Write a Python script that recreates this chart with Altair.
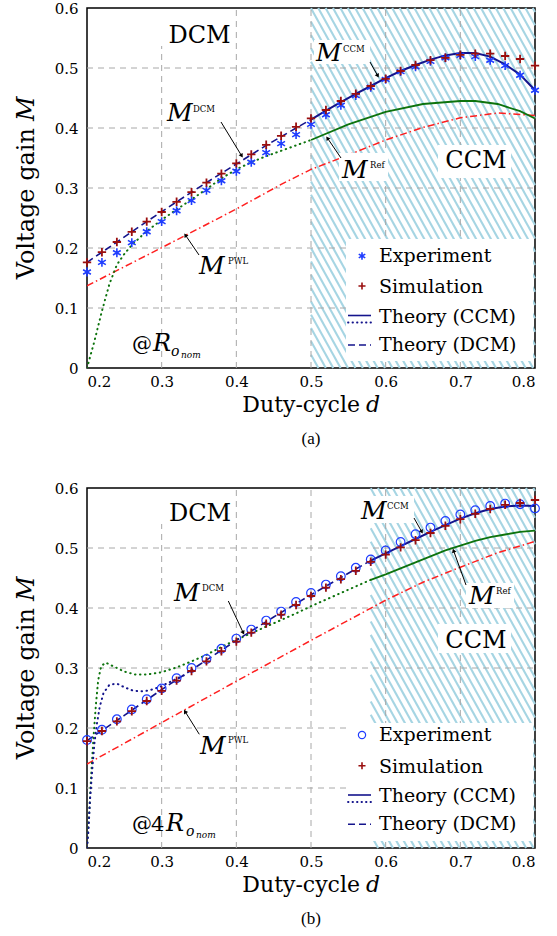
import math
import altair as alt
import pandas as pd

FONT = "DejaVu Serif"
W, H = 448, 360
X_DOM = [0.2, 0.8]
Y_DOM = [0.0, 0.6]

# ---------------- data ----------------
D = [0.20, 0.22, 0.24, 0.26, 0.28, 0.30, 0.32, 0.34, 0.36, 0.38, 0.40,
     0.42, 0.44, 0.46, 0.48, 0.50, 0.52, 0.54, 0.56, 0.58, 0.60, 0.62,
     0.64, 0.66, 0.68, 0.70, 0.72, 0.74, 0.76, 0.78, 0.80]

# panel (a)  @ Ro_nom
EXP_A = [0.160, 0.176, 0.192, 0.209, 0.227, 0.244, 0.262, 0.279, 0.296, 0.312, 0.328,
         0.343, 0.359, 0.374, 0.389, 0.406, 0.422, 0.438, 0.454, 0.468, 0.481, 0.494,
         0.502, 0.511, 0.517, 0.521, 0.519, 0.513, 0.504, 0.488, 0.463]
SIM_A = [0.176, 0.193, 0.210, 0.227, 0.244, 0.260, 0.277, 0.293, 0.309, 0.324, 0.341,
         0.356, 0.372, 0.387, 0.402, 0.416, 0.430, 0.445, 0.457, 0.470, 0.482, 0.495,
         0.505, 0.513, 0.517, 0.522, 0.524, 0.524, 0.520, 0.515, 0.504]
DCM_A_D = [0.20, 0.24, 0.28, 0.32, 0.36, 0.40, 0.44, 0.48, 0.50]
DCM_A_V = [0.176, 0.210, 0.244, 0.277, 0.309, 0.340, 0.371, 0.400, 0.414]
CCM_A_D = [0.50, 0.52, 0.54, 0.56, 0.58, 0.60, 0.62, 0.64, 0.66, 0.68, 0.70, 0.72, 0.74, 0.76, 0.78, 0.80]
CCM_A_V = [0.414, 0.429, 0.443, 0.457, 0.470, 0.483, 0.495, 0.505, 0.514, 0.521, 0.525, 0.525, 0.519, 0.506, 0.489, 0.463]
REF_A_D = [0.50, 0.55, 0.60, 0.65, 0.70, 0.72, 0.75, 0.78, 0.80]
REF_A_V = [0.380, 0.406, 0.427, 0.440, 0.445, 0.445, 0.440, 0.428, 0.416]
REFDOT_A_D = [0.20, 0.21, 0.22, 0.23, 0.24, 0.25, 0.26, 0.28, 0.30, 0.32, 0.34, 0.36, 0.38, 0.40, 0.42, 0.44, 0.46, 0.48, 0.50]
REFDOT_A_V = [0.0, 0.045, 0.095, 0.140, 0.172, 0.190, 0.205, 0.228, 0.247, 0.264, 0.281, 0.298, 0.316, 0.331, 0.343, 0.353, 0.362, 0.371, 0.380]
PWL_A_D = [0.20, 0.30, 0.40, 0.46, 0.50, 0.55, 0.60, 0.65, 0.70, 0.75, 0.80]
PWL_A_V = [0.137, 0.2005, 0.265, 0.306, 0.331, 0.355, 0.380, 0.401, 0.417, 0.425, 0.421]

# panel (b)  @ 4 Ro_nom
EXP_B = [0.180, 0.197, 0.2145, 0.231, 0.248, 0.266, 0.283, 0.300, 0.315, 0.332, 0.349,
         0.364, 0.379, 0.394, 0.410, 0.425, 0.439, 0.453, 0.467, 0.481, 0.496, 0.510,
         0.523, 0.534, 0.545, 0.556, 0.563, 0.570, 0.574, 0.573, 0.566]
SIM_B = [0.178, 0.195, 0.211, 0.228, 0.245, 0.262, 0.279, 0.295, 0.311, 0.328, 0.344,
         0.359, 0.374, 0.389, 0.405, 0.420, 0.434, 0.448, 0.462, 0.477, 0.489, 0.501,
         0.513, 0.525, 0.537, 0.548, 0.557, 0.565, 0.572, 0.575, 0.580]
DCM_B_D = [0.20, 0.25, 0.30, 0.35, 0.40, 0.45, 0.50, 0.55, 0.58]
DCM_B_V = [0.179, 0.221, 0.264, 0.305, 0.346, 0.385, 0.422, 0.458, 0.479]
CCM_B_D = [0.58, 0.60, 0.62, 0.64, 0.66, 0.68, 0.70, 0.72, 0.74, 0.76, 0.78, 0.80]
CCM_B_V = [0.479, 0.491, 0.503, 0.515, 0.527, 0.538, 0.549, 0.558, 0.565, 0.569, 0.571, 0.570]
CCMDOT_B_D = [0.200, 0.202, 0.204, 0.207, 0.210, 0.213, 0.217, 0.222, 0.230, 0.240, 0.250, 0.260, 0.270, 0.280, 0.290, 0.300, 0.310, 0.320, 0.330]
CCMDOT_B_V = [0.0, 0.030, 0.080, 0.130, 0.175, 0.205, 0.235, 0.258, 0.272, 0.274, 0.268, 0.263, 0.261, 0.262, 0.265, 0.270, 0.276, 0.282, 0.288]
REF_B_D = [0.58, 0.60, 0.62, 0.64, 0.66, 0.68, 0.70, 0.72, 0.74, 0.76, 0.78, 0.80]
REF_B_V = [0.447, 0.456, 0.466, 0.476, 0.486, 0.496, 0.504, 0.512, 0.518, 0.5225, 0.527, 0.529]
REFDOT_B_D = [0.200, 0.203, 0.206, 0.209, 0.212, 0.215, 0.219, 0.225, 0.235, 0.250, 0.265, 0.280, 0.300, 0.320,
              0.340, 0.360, 0.380, 0.400, 0.420, 0.440, 0.460, 0.480, 0.500, 0.520, 0.540, 0.560, 0.580]
REFDOT_B_V = [0.0, 0.060, 0.130, 0.190, 0.240, 0.280, 0.303, 0.309, 0.303, 0.294, 0.289, 0.289, 0.293, 0.301,
              0.311, 0.322, 0.335, 0.347, 0.358, 0.369, 0.380, 0.391, 0.403, 0.414, 0.425, 0.436, 0.447]
PWL_B_D = [0.20, 0.30, 0.40, 0.50, 0.60, 0.65, 0.70, 0.75, 0.80]
PWL_B_V = [0.140, 0.209, 0.278, 0.346, 0.413, 0.443, 0.468, 0.492, 0.511]

X_TICKS = [0.2, 0.3, 0.4, 0.5, 0.6, 0.7, 0.8]
Y_TICKS = [0.0, 0.1, 0.2, 0.3, 0.4, 0.5, 0.6]
X_GRID = [0.3, 0.4, 0.5, 0.6, 0.7]
Y_GRID = [0.1, 0.2, 0.3, 0.4, 0.5]
LEGEND_LABELS = ["Experiment", "Simulation", "Theory (CCM)", "Theory (DCM)"]

# ---------------- styles ----------------
C_EXP = "#1f3dff"
C_SIM = "#9a0f0f"
C_NAVY = "#14148c"
C_GREEN = "#0d730d"
C_RED = "#ff1f1f"
C_HATCH = "#a6d5e3"
C_GRID = "#a8a8a8"
ASTER = "M0,-1L0,1M-0.87,-0.5L0.87,0.5M-0.87,0.5L0.87,-0.5"
PLUS = "M-1,0L1,0M0,-1L0,1"

XAXIS = alt.Axis(values=X_TICKS, labelExpr="format(datum.value, '.1f')", grid=False, ticks=False,
                 domain=False, labelPadding=6, title=None)
YAXIS = alt.Axis(values=Y_TICKS, labelExpr="datum.value == 0 ? '0' : format(datum.value, '.1f')",
                 grid=False, ticks=False, domain=False, labelPadding=9, title=None)


def X(f="d"):
    return alt.X(f"{f}:Q", scale=alt.Scale(domain=X_DOM, nice=False, zero=False), axis=XAXIS, title=None)


def Y(f="v"):
    return alt.Y(f"{f}:Q", scale=alt.Scale(domain=Y_DOM, nice=False, zero=False), axis=YAXIS, title=None)


PX = alt.X("px:Q", scale=None, axis=None)
PY = alt.Y("py:Q", scale=None, axis=None)


def hatch_layer(x0):
    a = (x0 - X_DOM[0]) / 0.6 * W
    b = W
    k, period = 1.8, 7.4
    rows = []
    c = a - H / k
    while c < b:
        py0 = max(0.0, (a - c) * k)
        py1 = min(H, (b - c) * k)
        if py1 > py0:
            px0, px1 = c + py0 / k, c + py1 / k
            rows.append(dict(d=0.2 + px0 / W * 0.6, v=0.6 - py0 / H * 0.6,
                             d2=0.2 + px1 / W * 0.6, v2=0.6 - py1 / H * 0.6))
        c += period
    return alt.Chart(pd.DataFrame(rows)).mark_rule(color=C_HATCH, strokeWidth=2.1).encode(
        x=X(), y=Y(), x2="d2:Q", y2="v2:Q")


def grid_layers():
    vx = pd.DataFrame({"d": X_GRID, "v": 0.0, "v2": 0.6})
    hy = pd.DataFrame({"v": Y_GRID, "d": 0.2, "d2": 0.8})
    s = dict(color=C_GRID, strokeWidth=1, strokeDash=[6, 5])
    return [alt.Chart(vx).mark_rule(**s).encode(x=X(), y=Y(), y2="v2:Q"),
            alt.Chart(hy).mark_rule(**s).encode(y=Y(), x=X(), x2="d2:Q")]


def line(dv, vv, color, width, dash=None, cap="butt"):
    kw = dict(color=color, strokeWidth=width, strokeCap=cap, clip=True)
    if dash:
        kw["strokeDash"] = dash
    return alt.Chart(pd.DataFrame({"d": dv, "v": vv})).mark_line(**kw).encode(x=X(), y=Y())


def points(vals, shape, color, size, width=1.3):
    return alt.Chart(pd.DataFrame({"d": D, "v": vals})).mark_point(
        shape=shape, filled=False, stroke=color, strokeWidth=width, size=size, opacity=1).encode(x=X(), y=Y())


def texts(rows, italic=False, align="left", font=FONT, angle=0):
    df = pd.DataFrame(rows, columns=["px", "py", "t", "s"])
    return alt.Chart(df).mark_text(font=font, fontStyle="italic" if italic else "normal", align=align,
                                   baseline="alphabetic", color="black", angle=angle).encode(
        x=PX, y=PY, text="t:N", size=alt.Size("s:Q", scale=None, legend=None))


def boxes(rows):
    df = pd.DataFrame(rows, columns=["px", "px2", "py", "py2"])
    return alt.Chart(df).mark_rect(color="white", opacity=1).encode(x=PX, x2="px2:Q", y=PY, y2="py2:Q")


def arrows(rows):
    segs, heads = [], []
    for x1, y1, x2, y2 in rows:
        dx, dy = x2 - x1, y2 - y1
        L = math.hypot(dx, dy)
        ux, uy = dx / L, dy / L
        segs.append(dict(px=x1, py=y1, px2=x2 - 3 * ux, py2=y2 - 3 * uy))
        ang = math.degrees(math.atan2(dx, -dy)) % 360
        heads.append(dict(px=x2 - 2.5 * ux, py=y2 - 2.5 * uy, a=ang))
    s = alt.Chart(pd.DataFrame(segs)).mark_rule(color="black", strokeWidth=1).encode(
        x=PX, x2="px2:Q", y=PY, y2="py2:Q")
    h = alt.Chart(pd.DataFrame(heads)).mark_point(shape="triangle-up", filled=True, color="black",
                                                  size=22, opacity=1).encode(
        x=PX, y=PY, angle=alt.Angle("a:Q", scale=None))
    return [s, h]


def legend(exp_shape, exp_size, exp_w, ys):
    sy = ys  # baselines of the four labels
    lay = []
    lay.append(alt.Chart(pd.DataFrame({"px": [275], "py": [sy[0] - 6]})).mark_point(
        shape=exp_shape, filled=False, stroke=C_EXP, strokeWidth=exp_w, size=exp_size * 0.7, opacity=1).encode(x=PX, y=PY))
    lay.append(alt.Chart(pd.DataFrame({"px": [275], "py": [sy[1] - 7]})).mark_point(
        shape=PLUS, filled=False, stroke=C_SIM, strokeWidth=1.6, size=50, opacity=1).encode(x=PX, y=PY))

    def seg(y, dash=None, cap="butt", w=1.6):
        kw = dict(color=C_NAVY, strokeWidth=w, strokeCap=cap)
        if dash:
            kw["strokeDash"] = dash
        return alt.Chart(pd.DataFrame({"px": [261], "px2": [284], "py": [y]})).mark_rule(**kw).encode(
            x=PX, x2="px2:Q", y=PY)
    lay.append(seg(sy[2] - 7))
    lay.append(seg(sy[2], dash=[0.5, 4], cap="round", w=1.8))
    lay.append(seg(sy[3] - 6, dash=[7, 4]))
    lay.append(texts([[292, sy[i], LEGEND_LABELS[i], 19] for i in range(4)]))
    return lay


def panel(cfg):
    layers = [hatch_layer(cfg["hatch"])]
    layers += grid_layers()
    layers += [
        line(cfg["pwl"][0], cfg["pwl"][1], C_RED, 1.5, [7, 3, 1.5, 3]),
        line(cfg["refdot"][0], cfg["refdot"][1], C_GREEN, 2, [0.5, 4.5], "round"),
        line(cfg["ref"][0], cfg["ref"][1], C_GREEN, 1.8),
    ]
    if "ccmdot" in cfg:
        layers.append(line(cfg["ccmdot"][0], cfg["ccmdot"][1], C_NAVY, 2, [0.5, 4.5], "round"))
    layers += [
        line(cfg["dcm"][0], cfg["dcm"][1], C_NAVY, 1.6, [7, 4]),
        line(cfg["ccm"][0], cfg["ccm"][1], C_NAVY, 2),
        points(cfg["exp"], cfg["exp_shape"], C_EXP, cfg["exp_size"], cfg["exp_w"]),
        points(cfg["sim"], PLUS, C_SIM, 70, 1.8),
        boxes(cfg["boxes"]),
    ]
    layers += arrows(cfg["arrows"])
    Ms, sups = [], []
    for m in cfg["labels"]:
        Ms.append([m[0], m[1], "M", 25])
        sups.append([m[2], m[3], m[4], 8.5])
    layers.append(texts(Ms, italic=True))
    layers.append(texts(sups))
    layers.append(texts(cfg["modes"], align="center"))
    layers.append(texts(cfg["at_norm"]))
    layers.append(texts(cfg["at_ital"], italic=True))
    layers += legend(cfg["exp_shape"], cfg["exp_size"], cfg["exp_w"], cfg["legend_y"])
    # axis titles
    layers.append(texts([[273, 404, "Duty-cycle", 22]], align="right"))
    layers.append(texts([[279, 404, "d", 22]], italic=True))
    layers.append(texts([[-53, 120, "Voltage gain", 24]], align="right", angle=270))
    layers.append(texts([[-53, 113, "M", 24]], italic=True, angle=270))
    layers.append(texts([[224, 436, cfg["caption"], 17]], align="center", font="Liberation Serif"))
    return alt.layer(*layers).properties(width=W, height=H)


cfg_a = dict(
    hatch=0.5, exp=EXP_A, sim=SIM_A, exp_shape=ASTER, exp_size=80, exp_w=1.6,
    pwl=(PWL_A_D, PWL_A_V), refdot=(REFDOT_A_D, REFDOT_A_V), ref=(REF_A_D, REF_A_V),
    dcm=(DCM_A_D, DCM_A_V), ccm=(CCM_A_D, CCM_A_V),
    boxes=[[259, 446, 231, 353], [351, 424, 137, 170], [227, 283, 32, 56], [252, 301, 145, 173], [72, 147, 1, 38]],
    arrows=[[283, 54, 292, 70], [134, 114, 156, 150], [254, 150, 239, 128], [112, 247, 97, 225]],
    labels=[[229, 53, 256, 44, "CCM"], [80, 113, 106, 104, "DCM"], [255, 170, 283, 160, "Ref"], [112, 266, 141, 256, "PWL"]],
    modes=[[112.5, 35, "DCM", 24], [389, 160, "CCM", 24]],
    at_norm=[[45, 343, "@", 20]],
    at_ital=[[66, 343, "R", 24], [84, 348, "o", 14], [94, 350, "nom", 9]],
    legend_y=[254, 285, 314.5, 343], caption="(a)")

cfg_b = dict(
    hatch=0.58, exp=EXP_B, sim=SIM_B, exp_shape="circle", exp_size=75, exp_w=1.2,
    pwl=(PWL_B_D, PWL_B_V), refdot=(REFDOT_B_D, REFDOT_B_V), ref=(REF_B_D, REF_B_V),
    ccmdot=(CCMDOT_B_D, CCMDOT_B_V),
    dcm=(DCM_B_D, DCM_B_V), ccm=(CCM_B_D, CCM_B_V),
    boxes=[[259, 446, 235, 353], [351, 424, 136, 165], [272, 327, 8, 35], [379, 427, 95, 120], [72, 147, 1, 36]],
    arrows=[[327, 30, 336, 46], [379, 97, 365.7, 60.3], [141.3, 113, 157.3, 147], [112.3, 246.3, 96.7, 221.3]],
    labels=[[274, 31, 300, 21, "CCM"], [382, 116, 409, 106, "Ref"], [87, 113, 115, 103, "DCM"], [113, 266, 141, 255, "PWL"]],
    modes=[[113, 33, "DCM", 24], [389, 160, "CCM", 24]],
    at_norm=[[45, 343, "@", 20], [64, 343, "4", 21]],
    at_ital=[[79, 343, "R", 24], [99, 348, "o", 14], [109, 350, "nom", 9]],
    legend_y=[253, 284.7, 314, 342.3], caption="(b)")

anchor = alt.Chart(pd.DataFrame({"px": [-86], "px2": [-80], "py": [-7]})).mark_rule(
    opacity=0, strokeOpacity=0).encode(x=PX, x2="px2:Q", y=PY)

pa = alt.layer(panel(cfg_a), anchor)
pb = panel(cfg_b)

chart = alt.vconcat(pa, pb, spacing=120, bounds="flush").properties(
    padding=0, background="white"
).configure_view(stroke="black", strokeWidth=1.5).configure_axis(
    labelFont=FONT, labelFontSize=15, labelColor="black"
)

chart.save("out.html", embed_options={"renderer": "svg", "actions": False})
